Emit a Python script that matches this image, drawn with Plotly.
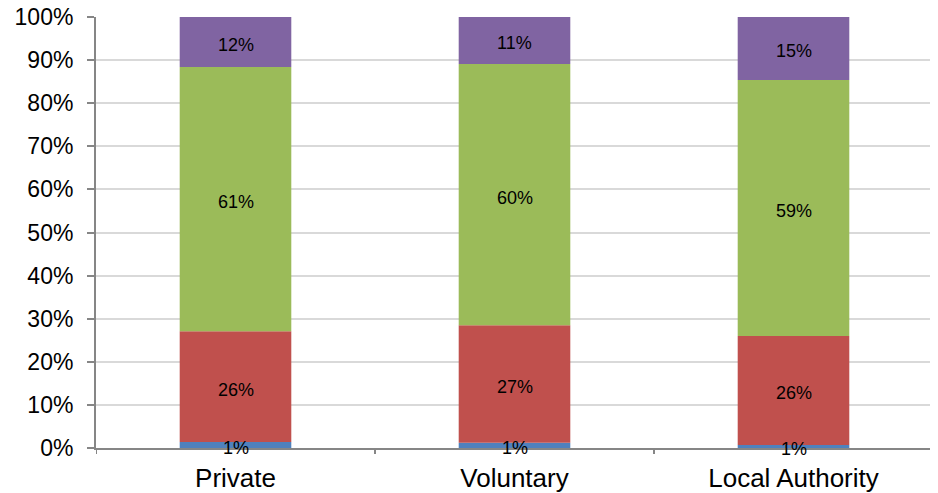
import plotly.graph_objects as go
import numpy as np

categories = ["Private", "Voluntary", "Local Authority"]
series_names = ["Series 1", "Series 2", "Series 3", "Series 4"]
blue = [1.4, 1.2, 0.7]
red = [25.7, 27.3, 25.3]
green = [61.3, 60.6, 59.4]
purple = [11.6, 10.9, 14.6]
labels_blue = ["1%", "1%", "1%"]
labels_red = ["26%", "27%", "26%"]
labels_green = ["61%", "60%", "59%"]
labels_purple = ["12%", "11%", "15%"]
y_ticks = [0, 10, 20, 30, 40, 50, 60, 70, 80, 90, 100]

colors = ["#4f81bd", "#c0504d", "#9bbb59", "#8064a2"]
series = [blue, red, green, purple]
labels = [labels_blue, labels_red, labels_green, labels_purple]

fig = go.Figure()
annotations = []
base = np.zeros(len(categories))
for name, vals, col, lab in zip(series_names, series, colors, labels):
    vals = np.array(vals)
    fig.add_trace(go.Bar(x=categories, y=vals, base=base, name=name,
                         marker=dict(color=col, line=dict(width=0)),
                         width=0.4, hoverinfo="skip"))
    mids = base + vals / 2
    for c, m, t in zip(categories, mids, lab):
        annotations.append(dict(x=c, y=m, xref="x", yref="y", text=t,
                                showarrow=False, yshift=-3,
                                font=dict(family="Liberation Sans, Arial", size=18, color="#000000")))
    base = base + vals

# page body has an 8px margin, so the figure is offset by (8, 8)
fig.update_layout(
    barmode="overlay",
    width=930, height=485,
    margin=dict(l=88, r=5, t=9, b=45),
    paper_bgcolor="white", plot_bgcolor="white",
    showlegend=False,
    annotations=annotations,
    font=dict(family="Liberation Sans, Arial", color="#000000"),
)
fig.update_xaxes(
    type="category", range=[-0.5, 2.5], automargin=False,
    showline=True, linecolor="#868686", linewidth=2,
    ticks="", showgrid=False,
    tickfont=dict(size=26), ticklabelstandoff=6,
    ticklabeloverflow="allow",
)
# category boundary ticks
fig.update_layout(shapes=[
    dict(type="line", xref="x", yref="paper", x0=b, x1=b, y0=0, y1=-0.014,
         line=dict(color="#868686", width=2))
    for b in [-0.5, 0.5, 1.5, 2.5]
])
fig.update_yaxes(
    range=[0, 100], tickvals=y_ticks, ticktext=[f"{v}%" for v in y_ticks],
    automargin=False,
    showline=True, linecolor="#868686", linewidth=2,
    ticks="outside", ticklen=7, tickcolor="#868686", tickwidth=2,
    showgrid=True, gridcolor="#d9d9d9", gridwidth=2,
    tickfont=dict(size=23), zeroline=False, ticklabelstandoff=9,
    ticklabeloverflow="allow",
)
fig.write_html("out.html")
